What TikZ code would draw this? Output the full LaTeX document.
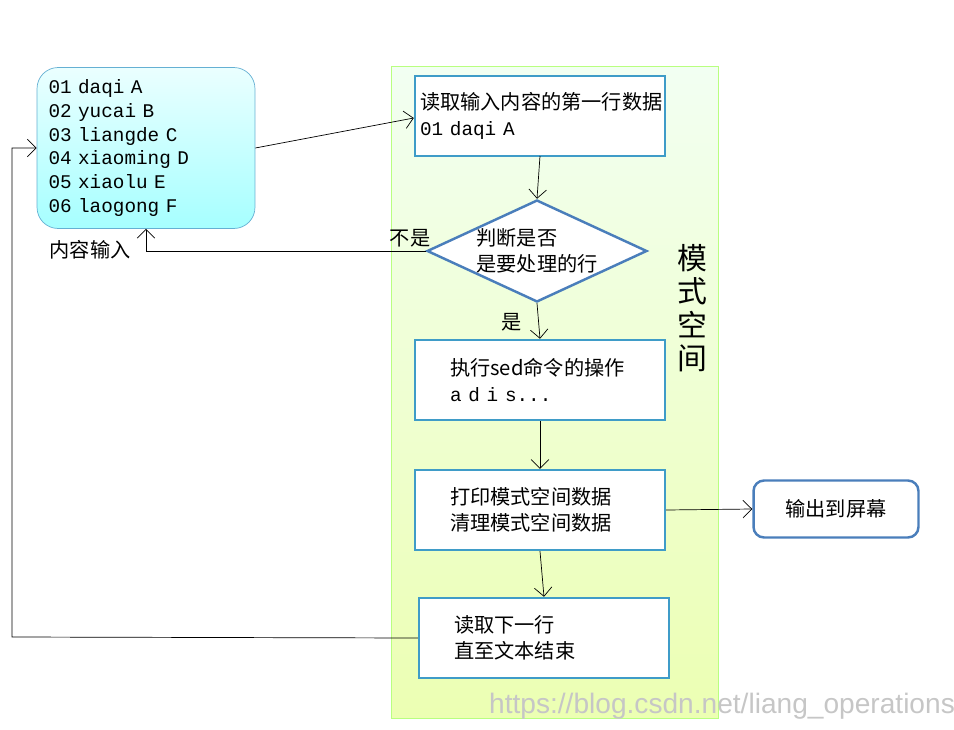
\documentclass[tikz,border=0pt]{standalone}
\usepackage{fontspec}
\setmainfont{Liberation Sans}
\setmonofont{Liberation Mono}
\newfontfamily\cjk{Noto Sans CJK SC}
\usetikzlibrary{shapes.geometric,arrows.meta,positioning}
\definecolor{boxblue}{HTML}{3F9CC8}
\definecolor{dblue}{HTML}{4A7EBB}
\begin{document}
\begin{tikzpicture}[
    x=0.02cm, y=-0.02cm,
    font=\cjk\fontsize{11.5}{15}\selectfont,
    stage/.style={
        rectangle,
        draw=boxblue,
        line width=1.4pt,
        fill=white,
        minimum width=5cm,
        minimum height=1.6cm,
        inner sep=2pt,
        text width=4.4cm,
        align=left
    },
    line/.style={
        draw, -{Straight Barb[length=5pt]}, thin
    }
]
    \useasboundingbox (0,0) rectangle (954,730);

    % Background panel
    \shade[top color=green!5!white, bottom color=green!25!yellow!30, draw=green!40!lime!50] (391,66) rectangle (718,718);
    \node at (692,308) [align=center, font=\cjk\fontsize{17}{19}\selectfont] (panel) {模\\式\\空\\间};

    % Nodes
    \node [rounded corners=12pt, draw=boxblue!80, top color=cyan!8, bottom color=cyan!35,
        minimum width=4.36cm, minimum height=3.22cm, text width=3.9cm, align=left,
        font=\ttfamily\fontsize{11}{13.6}\selectfont]
        (input) at (146,148) {01 daqi A\\02 yucai B\\03 liangde C\\04 xiaoming D\\05 xiaolu E\\06 laogong F};
    \node at (90,250) (inlabel) {内容输入};
    \node [stage, text width=4.8cm] (read) at (540,116) {读取输入内容的第一行数据\\{\ttfamily\fontsize{11}{15}\selectfont 01 daqi A}};
    \node [diamond, draw=dblue, line width=1.4pt, fill=white, minimum width=4.4cm, minimum height=2.04cm,
        aspect=2.15, inner sep=0pt, align=left] (check) at (537,251) {判断是否\\是要处理的行};
    \node [stage, text width=3.6cm] (exec) at (540,380) {执行sed命令的操作\\{\ttfamily\fontsize{11}{15}\selectfont a d i s...}};
    \node [stage, text width=3.6cm] (print) at (540,510) {打印模式空间数据\\清理模式空间数据};
    \node [stage, text width=3.6cm] (next) at (544,638) {读取下一行\\直至文本结束};
    \node [rectangle, rounded corners=6pt, draw=dblue, line width=1.4pt, fill=white,
        minimum width=3.3cm, minimum height=1.14cm] (out) at (836,509) {输出到屏幕};
    \node at (410,238) (no) {不是};
    \node at (512,322) (yes) {是};
    \coordinate (leftturn) at (12,637);

    % Edges
    \path [line] (input.east |- 0,148) -- (read.west |- 0,118);
    \path [line] (540,156) -- (check.north);
    \path [line] (check.west) -| (input.south);
    \path [line] (check.south) -- (exec.north);
    \path [line] (exec.south) -- (print.north);
    \path [line] (print.east) -- (out.west);
    \path [line] (print.south) -- (next.north);
    \path [line] (next.west) -- (leftturn) |- (input.west);

    \node [text=gray!45, font=\fontsize{16}{18}\selectfont] (mark) at (722,706) {https://blog.csdn.net/liang\_operations};
\end{tikzpicture}
\end{document}
